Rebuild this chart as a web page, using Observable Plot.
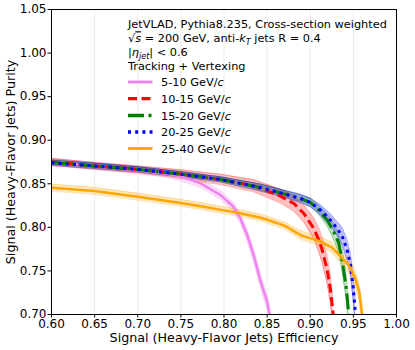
<!DOCTYPE html>
<html><head><meta charset="utf-8">
<script src="https://cdn.jsdelivr.net/npm/d3@7"></script>
<script src="https://cdn.jsdelivr.net/npm/@observablehq/plot@0.6"></script>
<style>
body{margin:0;background:#fff}
svg{font-family:"DejaVu Sans",sans-serif}
</style>
</head><body><div id="chart"></div>
<script>
// ---- data ----
const seriesNames = ["5-10", "10-15", "15-20", "20-25", "25-40"];
const xTicks = [0.60, 0.65, 0.70, 0.75, 0.80, 0.85, 0.90, 0.95, 1.00];
const yTicks = [0.70, 0.75, 0.80, 0.85, 0.90, 0.95, 1.00, 1.05];

const eff_5_10 = [0.600, 0.650, 0.700, 0.730, 0.750, 0.773, 0.796, 0.811, 0.819, 0.827, 0.835, 0.842, 0.850, 0.853];
const pur_5_10 = [0.8750, 0.8705, 0.8655, 0.8620, 0.8585, 0.8505, 0.8370, 0.8236, 0.8102, 0.7910, 0.7662, 0.7395, 0.7147, 0.7000];
const err_5_10 = [0.004, 0.004, 0.004, 0.004, 0.005, 0.005, 0.005, 0.005, 0.006, 0.007, 0.008, 0.008, 0.009, 0.009];

const eff_10_15 = [0.600, 0.650, 0.700, 0.750, 0.796, 0.835, 0.8655, 0.881, 0.8926, 0.9042, 0.910, 0.9139, 0.9197, 0.9235, 0.9266];
const pur_10_15 = [0.8750, 0.8705, 0.8665, 0.8610, 0.8550, 0.8475, 0.8358, 0.8274, 0.8159, 0.7987, 0.7853, 0.7739, 0.7510, 0.7280, 0.7000];
const err_10_15 = [0.004, 0.004, 0.004, 0.005, 0.006, 0.007, 0.008, 0.009, 0.010, 0.012, 0.014, 0.015, 0.016, 0.016, 0.016];

const eff_15_20 = [0.600, 0.650, 0.700, 0.750, 0.796, 0.8423, 0.8655, 0.8887, 0.9003, 0.908, 0.9197, 0.9273, 0.933, 0.937, 0.9416, 0.9447];
const pur_15_20 = [0.8745, 0.8705, 0.8665, 0.8610, 0.8550, 0.8457, 0.8396, 0.8331, 0.8285, 0.8220, 0.8083, 0.7949, 0.7820, 0.7624, 0.7318, 0.7000];
const err_15_20 = [0.003, 0.003, 0.003, 0.003, 0.003, 0.004, 0.004, 0.004, 0.005, 0.005, 0.007, 0.009, 0.011, 0.013, 0.014, 0.014];

const eff_20_25 = [0.600, 0.650, 0.700, 0.750, 0.796, 0.8423, 0.8655, 0.8887, 0.9003, 0.912, 0.9235, 0.9312, 0.937, 0.9428, 0.9467, 0.9497, 0.9525];
const pur_20_25 = [0.8740, 0.8705, 0.8665, 0.8610, 0.8550, 0.8457, 0.8396, 0.8331, 0.8285, 0.8197, 0.8083, 0.7987, 0.7900, 0.7739, 0.7570, 0.7318, 0.7000];
const err_20_25 = [0.003, 0.003, 0.003, 0.003, 0.003, 0.004, 0.004, 0.005, 0.005, 0.006, 0.007, 0.008, 0.010, 0.012, 0.013, 0.014, 0.014];

const eff_25_40 = [0.600, 0.650, 0.700, 0.750, 0.775, 0.800, 0.820, 0.845, 0.870, 0.890, 0.910, 0.925, 0.935, 0.945, 0.952, 0.957, 0.9602];
const pur_25_40 = [0.8455, 0.8418, 0.8350, 0.8280, 0.8240, 0.8195, 0.8160, 0.8105, 0.8020, 0.7905, 0.7845, 0.7770, 0.7670, 0.7560, 0.7420, 0.7250, 0.7000];
const err_25_40 = [0.004, 0.004, 0.004, 0.004, 0.004, 0.004, 0.004, 0.004, 0.004, 0.005, 0.005, 0.006, 0.007, 0.008, 0.009, 0.010, 0.010];

// ---- styles ----
const colors = ["#ee82ee", "#ff0000", "#008000", "#0000ff", "#ffa500"];
const dashes = [null, "9,4.5", "16,4.5,3,4.5", "3,4.2", null];
const widths = [2.5, 3, 3, 3, 2.5];
const caps = ["round", "butt", "butt", "butt", "round"];

const seriesData = [
  [eff_5_10, pur_5_10, err_5_10],
  [eff_10_15, pur_10_15, err_10_15],
  [eff_15_20, pur_15_20, err_15_20],
  [eff_20_25, pur_20_25, err_20_25],
  [eff_25_40, pur_25_40, err_25_40]
];
const rows = seriesData.map(([xs, ys, es], i) =>
  xs.map((x, j) => ({series: seriesNames[i], x, y: ys[j], e: es[j]})));

const bandMarks = rows.map((r, i) => [
  Plot.areaY(r, {x: "x", y1: d => d.y - d.e, y2: d => d.y + d.e, fill: colors[i], fillOpacity: 0.25, clip: true, curve: "linear"}),
  Plot.line(r, {x: "x", y: d => d.y + d.e, stroke: colors[i], strokeOpacity: 0.35, strokeWidth: 0.8, clip: true}),
  Plot.line(r, {x: "x", y: d => d.y - d.e, stroke: colors[i], strokeOpacity: 0.35, strokeWidth: 0.8, clip: true})
]);
const lineMarks = rows.map((r, i) =>
  Plot.line(r, {x: "x", y: "y", stroke: colors[i], strokeWidth: widths[i], strokeDasharray: dashes[i], strokeLinecap: caps[i], clip: true}));

const svg = Plot.plot({
  width: 415, height: 350,
  marginLeft: 51, marginRight: 19, marginTop: 9, marginBottom: 36,
  style: {fontFamily: "DejaVu Sans", fontSize: "12px", color: "black", background: "white"},
  x: {domain: [0.6, 1.0]},
  y: {domain: [0.7, 1.05]},
  marks: [
    Plot.ruleX(xTicks.slice(1, -1), {stroke: "#b0b0b0", strokeOpacity: 0.3, strokeWidth: 0.8}),
    bandMarks,
    lineMarks,
    Plot.frame({stroke: "black", strokeWidth: 1}),
    Plot.axisX({ticks: xTicks, tickSize: 3.5, tickPadding: 1, tickFormat: d => d.toFixed(2), label: null, fontSize: 12, stroke: "black"}),
    Plot.axisY({ticks: yTicks, tickSize: 3.5, tickPadding: 1.5, tickFormat: d => d.toFixed(2), label: null, fontSize: 12, stroke: "black"}),
    Plot.text(["Signal (Heavy-Flavor Jets) Efficiency"], {frameAnchor: "bottom", dy: 23, text: d => d, fontSize: 12.7, lineAnchor: "middle"}),
    Plot.text(["Signal (Heavy-Flavor Jets) Purity"], {frameAnchor: "left", dx: -41, rotate: -90, text: d => d, fontSize: 12.7, textAnchor: "middle", lineAnchor: "middle"})
  ]
});
document.getElementById("chart").appendChild(svg);

// ---- legend / annotation ----
const legendLabels = ["5-10 GeV/", "10-15 GeV/", "15-20 GeV/", "20-25 GeV/", "25-40 GeV/"];
const g = d3.select(svg).append("g").attr("font-size", 11.3).attr("fill", "black").attr("text-anchor", "start");
const lx = 128;
g.append("text").attr("x", lx).attr("y", 28.3).text("JetVLAD, Pythia8.235, Cross-section weighted");
const t2 = g.append("text").attr("x", lx).attr("y", 42.3);
t2.append("tspan").text("\u221A");
t2.append("tspan").attr("font-style", "italic").attr("text-decoration", "overline").text("s");
t2.append("tspan").text(" = 200 GeV, anti-");
t2.append("tspan").attr("font-style", "italic").text("k");
t2.append("tspan").attr("font-style", "italic").attr("font-size", 8).attr("dy", 2.5).text("T");
t2.append("tspan").attr("dy", -2.5).text(" jets R = 0.4");
const t3 = g.append("text").attr("x", lx).attr("y", 56.3);
t3.append("tspan").text("|");
t3.append("tspan").attr("font-style", "italic").text("\u03B7");
t3.append("tspan").attr("font-style", "italic").attr("font-size", 8).attr("dy", 2.5).text("jet");
t3.append("tspan").attr("dy", -2.5).text("| < 0.6");
g.append("text").attr("x", lx).attr("y", 70.3).text("Tracking + Vertexing");
const entryY = [82, 98.7, 115.5, 132, 148.5];
legendLabels.forEach((lab, i) => {
  const yy = entryY[i];
  g.append("line").attr("x1", lx).attr("x2", lx + 24.5).attr("y1", yy).attr("y2", yy)
    .attr("stroke", colors[i]).attr("stroke-width", widths[i] + 0.3)
    .attr("stroke-dasharray", dashes[i]).attr("stroke-linecap", "butt");
  const tt = g.append("text").attr("x", lx + 33).attr("y", yy + 4.2);
  tt.append("tspan").text(lab);
  tt.append("tspan").attr("font-style", "italic").text("c");
});
</script>
</body></html>
